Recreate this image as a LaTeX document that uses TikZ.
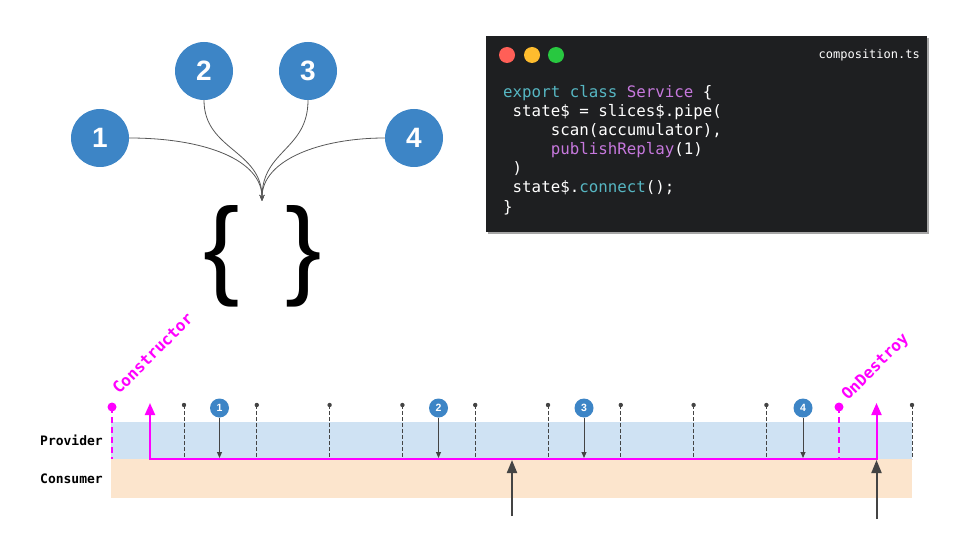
\documentclass[tikz,border=0pt]{standalone}
\usepackage{fontspec}
\setmainfont{Liberation Sans}
\newfontfamily\codefont{DejaVu Sans Mono}
\usetikzlibrary{positioning,arrows.meta}

\definecolor{numblue}{HTML}{3D85C6}
\definecolor{provfill}{HTML}{CFE2F3}
\definecolor{consfill}{HTML}{FCE5CD}
\definecolor{hookmag}{HTML}{FF00FF}
\definecolor{codebg}{HTML}{1E1F21}
\definecolor{kwcyan}{HTML}{56B6C2}
\definecolor{kwpurple}{HTML}{C678DD}
\definecolor{dotred}{HTML}{FF5F57}
\definecolor{dotyellow}{HTML}{FEBC2E}
\definecolor{dotgreen}{HTML}{28C840}
\definecolor{inkgray}{HTML}{444444}

\begin{document}
\begin{tikzpicture}
          [ x=1pt, y=-1pt,
            num/.style={
              circle,
              fill=numblue,
              text=white,
              minimum size=58pt,
              inner sep=0pt,
              font=\fontsize{28}{28}\selectfont\bfseries},
            event/.style={
              circle,
              fill=numblue,
              text=white,
              minimum size=19pt,
              inner sep=0pt,
              font=\fontsize{10.5}{10.5}\selectfont\bfseries},
            feed/.style={
              draw=inkgray!90,
              line width=0.8pt,
              -{Stealth[length=6pt,width=5pt]},
            },
            codeline/.style={
              anchor=base west,
              inner sep=0pt,
              text=white,
              font=\codefont\fontsize{15.8}{19}\selectfont},
            brace/.style={
              inner sep=0pt,
              draw=none,
              font=\fontsize{109}{109}\selectfont},
            lane/.style={
              anchor=east,
              inner sep=0pt,
              font=\codefont\fontsize{13}{13}\selectfont\bfseries},
            hook/.style={
              anchor=base west,
              inner sep=0pt,
              rotate=45,
              text=hookmag,
              font=\codefont\fontsize{16}{16}\selectfont\bfseries},
            pin/.style={
              draw=inkgray,
              line width=0.9pt,
              dash pattern=on 3.5pt off 2.5pt},
            hookpin/.style={
              draw=hookmag,
              line width=2.5pt,
              dash pattern=on 6pt off 4pt},
            life/.style={
              draw=hookmag,
              line width=2pt,
              {Triangle[length=12pt,width=10pt]}-{Triangle[length=12pt,width=10pt]}},
            tick/.style={
              draw=inkgray,
              line width=1pt,
              -{Triangle[length=6pt,width=5pt]}},
            push/.style={
              draw=inkgray,
              line width=2pt,
              -{Triangle[length=13pt,width=10pt]}},
          ]

          \useasboundingbox (0,0) rectangle (960,540);

          \node (n1) [num] at (100,138) {1};
          \node (n2) [num] at (204,71) {2};
          \node (n3) [num] at (308,71) {3};
          \node (n4) [num] at (414,138) {4};
          \coordinate (merge) at (262,201);

          \draw[feed] (n1.east) .. controls (205,138) and (262,160) .. (merge);
          \draw[feed] (n2.south) .. controls (204,150) and (262,150) .. (merge);
          \draw[feed] (n3.south) .. controls (308,150) and (262,150) .. (merge);
          \draw[feed] (n4.west) .. controls (320,138) and (262,160) .. (merge);

          \node (lbrace) [brace] at (221.5,256) {\{};
          \node (rbrace) [brace] at (304,256) {\}};

          \fill[gray!70] (488,38) rectangle (929,234);
          \fill[codebg] (486,36) rectangle (927,232);
          \fill[dotred] (507,55) circle (8);
          \fill[dotyellow] (532,55) circle (8);
          \fill[dotgreen] (556,55) circle (8);
          \node (fname) [codeline, anchor=base east, font=\codefont\fontsize{12}{12}\selectfont]
            at (920,59) {composition.ts};

          \node (l1) [codeline] at (503,98)
            {\textcolor{kwcyan}{export class} \textcolor{kwpurple}{Service} \{};
          \node (l2) [codeline] at (503,117) {\hphantom{x}state\$ = slices\$.pipe(};
          \node (l3) [codeline] at (503,136) {\hphantom{xxxxx}scan(accumulator),};
          \node (l4) [codeline] at (503,155) {\hphantom{xxxxx}\textcolor{kwpurple}{publishReplay}(1)};
          \node (l5) [codeline] at (503,174) {\hphantom{x})};
          \node (l6) [codeline] at (503,193) {\hphantom{x}state\$.\textcolor{kwcyan}{connect}();};
          \node (l7) [codeline] at (503,212) {\}};

          \fill[provfill] (111,422) rectangle (912,459);
          \fill[consfill] (111,459) rectangle (912,498);
          \node (prov) [lane] at (103,440) {Provider};
          \node (cons) [lane] at (103,479) {Consumer};
          \coordinate (base) at (0,459);

          \foreach \i in {0,...,8,10} {
            \coordinate (t\i) at (184+72.8*\i,405);
            \draw[pin] (t\i) -- (t\i |- base);
            \fill[inkgray] (t\i) circle (2.2);
          }

          \coordinate (ctor) at (112,407);
          \coordinate (dtor) at (839,407);
          \draw[hookpin] (ctor) -- (ctor |- base);
          \draw[hookpin] (dtor) -- (dtor |- base);
          \fill[hookmag] (ctor) circle (4.5);
          \fill[hookmag] (dtor) circle (4.5);
          \node (ctorlabel) [hook] at (119,395) {Constructor};
          \node (dtorlabel) [hook] at (848,401) {OnDestroy};

          \coordinate (start) at (150,403);
          \coordinate (stop) at (876.5,403);
          \draw[life] (start) -- (start |- base) -- (stop |- base) -- (stop);

          \node (e1) [event] at (219.5,408) {1};
          \node (e2) [event] at (438.5,408) {2};
          \node (e3) [event] at (584,408) {3};
          \node (e4) [event] at (803,408) {4};
          \foreach \e in {e1,e2,e3,e4}
            \draw[tick] (\e.south) -- (\e.south |- 0,458);

          \coordinate (sub1) at (512,516);
          \coordinate (sub2) at (876.5,519);
          \draw[push] (sub1) -- (sub1 |- 0,460);
          \draw[push] (sub2) -- (sub2 |- 0,460);

        \end{tikzpicture}
\end{document}
